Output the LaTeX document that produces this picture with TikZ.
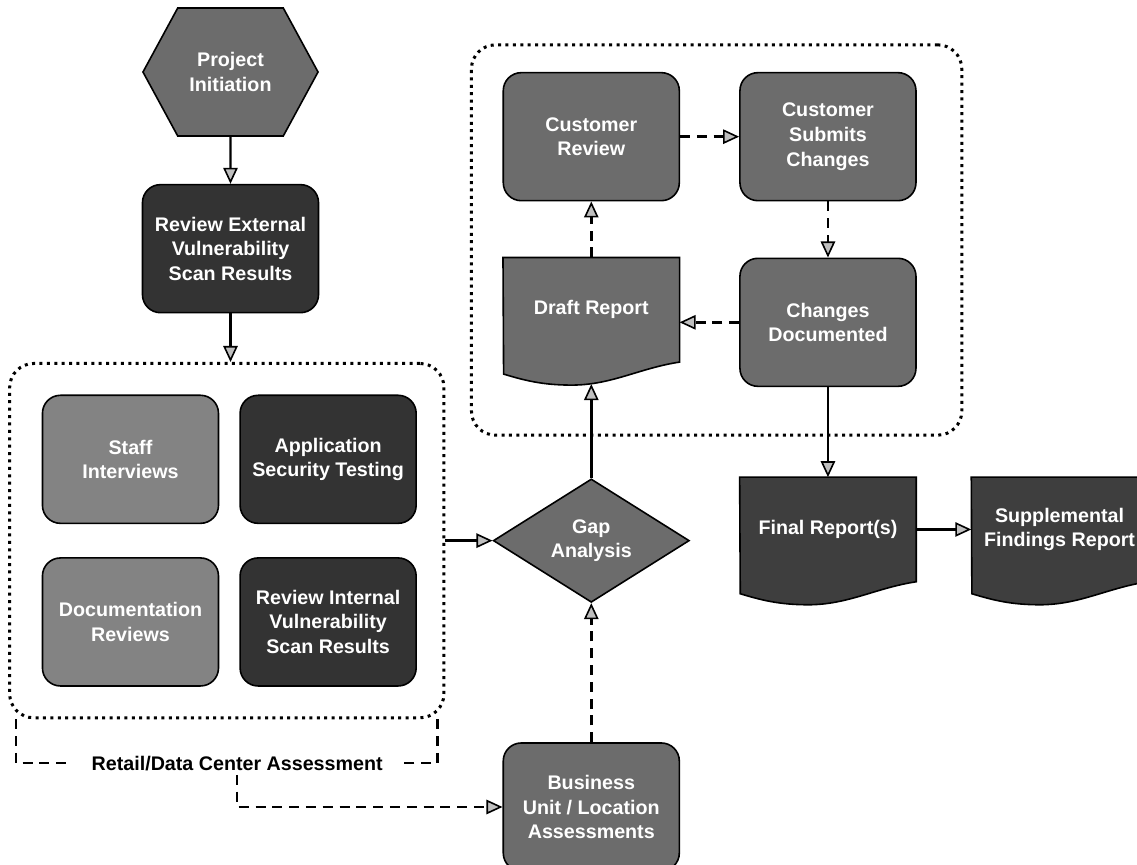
\documentclass[tikz,border=0pt]{standalone}
\usepackage{fontspec}
\setmainfont{Liberation Sans}
\usetikzlibrary{arrows.meta, positioning, shapes.geometric, shapes.symbols, fit, backgrounds}

\definecolor{boxmid}{HTML}{6C6C6C}
\definecolor{boxlight}{HTML}{838383}
\definecolor{boxdark}{HTML}{333333}
\definecolor{docdark}{HTML}{3E3E3E}

\begin{document}
\begin{tikzpicture}[
                x=0.025cm, y=-0.025cm,
                every node/.style={font=\fontsize{14}{17.5}\selectfont\bfseries, align=center},
                box/.style={rectangle, rounded corners=0.45cm, draw=black, line width=0.04cm,
                    text=white, minimum width=4.4cm, minimum height=3.2cm, inner sep=0pt},
                midbox/.style={box, fill=boxmid},
                lightbox/.style={box, fill=boxlight},
                darkbox/.style={box, fill=boxdark},
                hexbox/.style={signal, signal to=west and east, signal pointer angle=123,
                    draw=black, line width=0.04cm, fill=boxmid, text=white,
                    minimum width=4.375cm, minimum height=3.2cm, inner sep=0pt},
                decision/.style={diamond, draw=black, line width=0.04cm, fill=boxmid, text=white,
                    minimum width=4.9cm, minimum height=3.05cm, inner sep=0pt},
                docbox/.style={rectangle, text=white, minimum width=4.4cm, minimum height=2.6cm, inner sep=0pt},
                frame/.style={draw, line width=0.075cm, dash pattern=on 0.075cm off 0.11cm,
                    rounded corners=0.6cm, inner sep=0pt},
                rdclabel/.style={text=black, inner xsep=0.5cm, inner ysep=0.1cm},
                >={Triangle[length=0.4cm, width=0.36cm, fill=gray!50, line width=0.04cm]},
                flow/.style={->, line width=0.06cm},
                dflow/.style={->, line width=0.06cm, dash pattern=on 0.25cm off 0.17cm},
                dline/.style={line width=0.06cm, dash pattern=on 0.25cm off 0.17cm}
            ]
            \useasboundingbox (0,0) rectangle (1137,864);

            \node[hexbox] (init) at (230.5,72) {Project\\Initiation};
            \node[darkbox] (extrev) [below=1.175cm of init] {Review External\\Vulnerability\\Scan Results};

            \node[lightbox] (staff) [below=2.025cm of extrev, xshift=-2.5cm] {Staff\\Interviews};
            \node[darkbox] (appsec) [right=0.5cm of staff] {Application\\Security Testing};
            \node[lightbox] (docrev) [below=0.825cm of staff] {Documentation\\Reviews};
            \node[darkbox] (intrev) [below=0.825cm of appsec] {Review Internal\\Vulnerability\\Scan Results};
            \node[frame, fit={([shift={(-0.8cm,0.775cm)}]staff.north west) ([shift={(0.675cm,-0.775cm)}]intrev.south east)}] (lframe) {};

            \node[decision] (gap) [right=1.175cm of lframe] {Gap\\Analysis};
            \node[midbox] (bunit) [below=3.475cm of gap] {Business\\Unit / Location\\Assessments};

            \node[docbox] (draft) [above=2.9cm of gap] {Draft Report};
            \node[midbox] (custrev) [above=1.4cm of draft] {Customer\\Review};
            \node[midbox] (custsub) [right=1.475cm of custrev] {Customer\\Submits\\Changes};
            \node[midbox] (changes) [below=1.4cm of custsub] {Changes\\Documented};
            \node[frame, fit={([shift={(-0.775cm,0.675cm)}]custrev.north west) ([shift={(1.125cm,-1.2cm)}]changes.south east)}] (rframe) {};

            \node[docbox] (final) [below=2.25cm of changes] {Final Report(s)};
            \node[docbox] (supp) [right=1.375cm of final] {Supplemental\\Findings Report};

            \node[rdclabel] (rdc) at ([xshift=0.26cm, yshift=-1.1cm]lframe.south) {Retail/Data Center Assessment};

            \begin{scope}[on background layer]
                \foreach \d/\c in {draft/boxmid, final/docdark, supp/docdark} {
                    \filldraw[fill=\c, line width=0.04cm] (\d.north west) -- (\d.north east) -- (\d.south east)
                        .. controls +(-40,6) and +(40,0) .. ++(-108,23)
                        .. controls +(-30,0) and +(20,6) .. ++(-68,-11) -- cycle;
                }
            \end{scope}

            \coordinate (draftdip) at ([yshift=-0.55cm]draft.south);

            \draw[flow] (init) -- (extrev);
            \draw[flow] (extrev.south) -- (extrev.south |- lframe.north);
            \draw[flow] (lframe) -- (gap);
            \draw[flow] (gap) -- (draftdip);
            \draw[dflow] (draft) -- (custrev);
            \draw[dflow] (custrev) -- (custsub);
            \draw[dflow] (custsub) -- (changes);
            \draw[dflow] (changes.west) -- (changes.west -| draft.east);
            \draw[flow] (changes) -- (final);
            \draw[flow] (final) -- (supp);
            \draw[dflow] (bunit) -- (gap);
            \draw[dline] ([xshift=0.2cm]lframe.south west) |- (rdc.west);
            \draw[dline] ([xshift=-0.2cm]lframe.south east) |- (rdc.east);
            \draw[dflow] (rdc.south) |- (bunit.west);
        \end{tikzpicture}
\end{document}
